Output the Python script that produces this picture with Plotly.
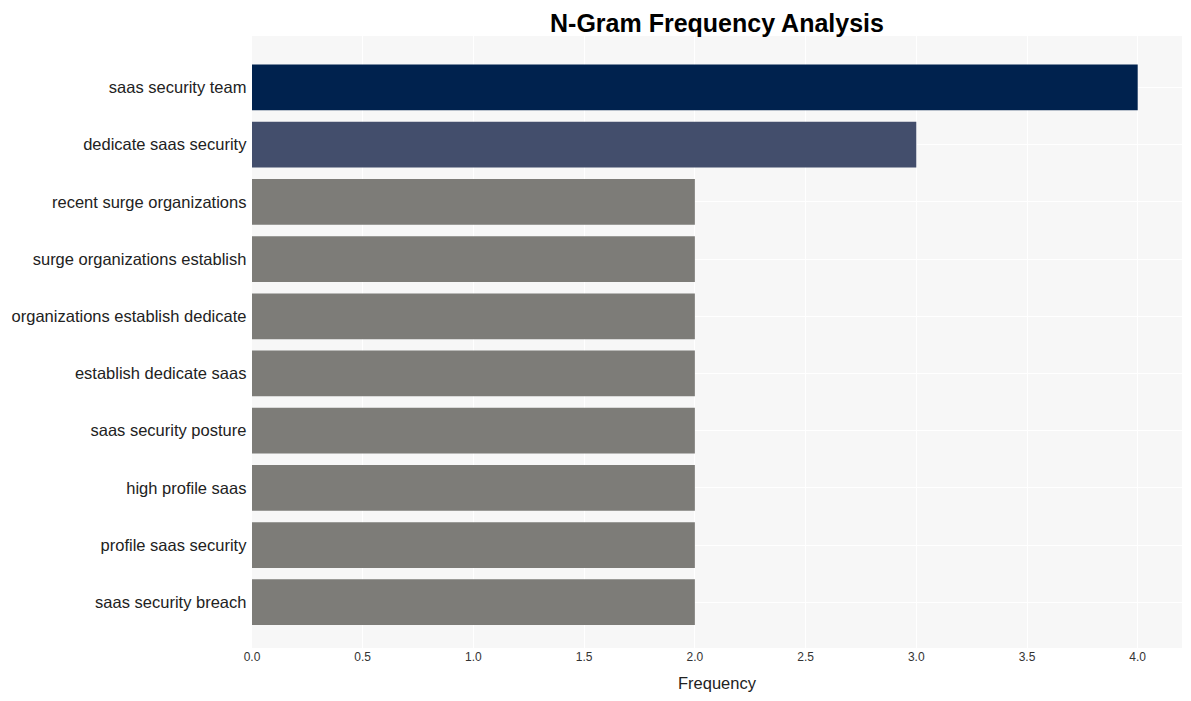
import plotly.graph_objects as go

ngrams = [
    "saas security team",
    "dedicate saas security",
    "recent surge organizations",
    "surge organizations establish",
    "organizations establish dedicate",
    "establish dedicate saas",
    "saas security posture",
    "high profile saas",
    "profile saas security",
    "saas security breach",
]
frequency = [4, 3, 2, 2, 2, 2, 2, 2, 2, 2]
bar_colors = ["#00224e", "#434e6c"] + ["#7d7c78"] * 8

fig = go.Figure(
    go.Bar(
        x=frequency,
        y=ngrams,
        orientation="h",
        marker=dict(color=bar_colors, line=dict(width=0)),
        width=0.8,
    )
)

fig.update_layout(
    width=1191,
    height=701,
    margin=dict(l=244, r=17, t=28, b=61, autoexpand=False),
    paper_bgcolor="white",
    plot_bgcolor="#f7f7f7",
    font=dict(family="Liberation Sans, Arial, sans-serif", color="#222"),
    title=dict(
        text="<b>N-Gram Frequency Analysis</b>",
        x=0.5,
        xref="paper",
        xanchor="center",
        y=0.9786,
        yref="container",
        yanchor="middle",
        font=dict(size=25, color="black"),
        automargin=False,
    ),
    showlegend=False,
    bargap=0.2,
)

fig.update_xaxes(
    range=[0, 4.2],
    dtick=0.5,
    tickformat=".1f",
    gridcolor="white",
    gridwidth=1,
    zeroline=False,
    automargin=False,
    tickfont=dict(size=12, color="#333"),
    title=dict(text="Frequency", font=dict(size=16.5), standoff=14),
)
fig.update_yaxes(
    autorange=False,
    range=[9.8, -0.9],
    gridcolor="white",
    gridwidth=1,
    automargin=False,
    tickfont=dict(size=16.5),
    ticksuffix=" ",
)

fig.write_html("out.html")
